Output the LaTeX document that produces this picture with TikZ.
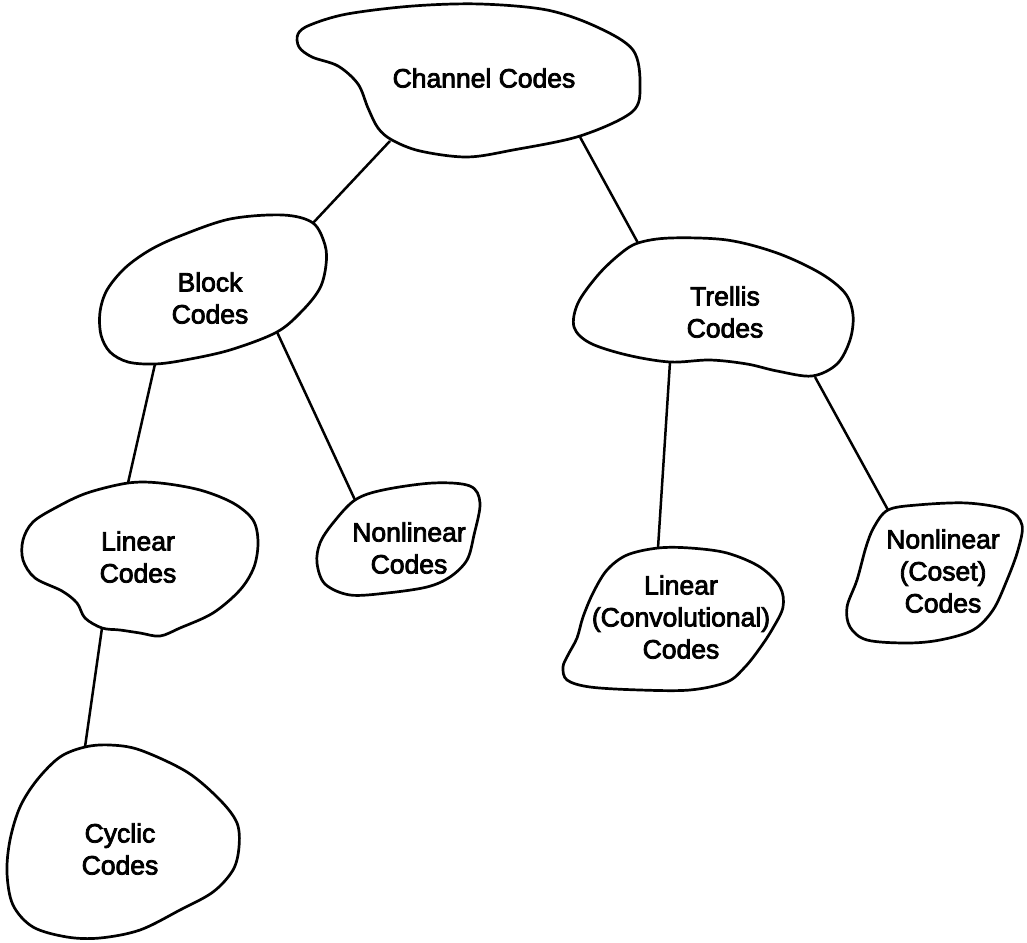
\documentclass[tikz,border=0pt]{standalone}
\usepackage{fontspec}
\setmainfont{Liberation Sans}
\newfontfamily\lblfont{Liberation Sans}[FakeBold=3]
\begin{document}
\begin{tikzpicture}[x=1pt,y=-1pt,
  blob/.style={draw=black,line width=2.7pt,line join=round,smooth cycle,tension=0.55},
  lbl/.style={align=center,inner sep=0pt,font=\lblfont\fontsize{26.5}{32}\selectfont},
  link/.style={draw=black,line width=2.5pt}]
\useasboundingbox (0,0) rectangle (1027,942);
% blobs
\draw[blob] plot coordinates {(310,25) (347,14) (413,6) (480,4) (547,10) (597,27) (633,50) (640,85) (632,112) (580,136) (513,150) (467,157) (420,151) (392,140) (378,128) (368,108) (358,84) (338,66) (312,57) (299,47) (298,34)};
\draw[blob] plot coordinates {(180,236) (230,219) (283,215) (313,223) (325,245) (326,265) (320,288) (303,310) (277,332) (230,350) (185,360) (155,364) (128,362) (110,352) (101,335) (100,312) (107,290) (125,268) (150,250)};
\draw[blob] plot coordinates {(638,243) (670,238) (727,240) (777,253) (820,273) (845,293) (853,315) (850,340) (837,364) (812,376) (777,371) (747,364) (710,360) (670,362) (627,355) (590,343) (574,327) (578,303) (598,275) (620,254)};
\draw[blob] plot coordinates {(128,483) (160,483) (200,490) (233,503) (253,520) (258,542) (254,567) (240,590) (213,613) (180,628) (160,636) (140,633) (120,630) (102,628) (85,618) (77,603) (62,591) (35,578) (23,560) (23,540) (33,522) (57,507) (87,493)};
\draw[blob] plot coordinates {(85,747) (110,745) (140,750) (187,772) (220,800) (237,823) (239,847) (233,870) (213,892) (180,910) (140,930) (100,938) (67,937) (33,927) (13,905) (7,873) (10,840) (20,807) (37,780) (60,757)};
\draw[blob] plot coordinates {(355,500) (383,490) (433,483) (470,486) (480,503) (474,535) (467,560) (450,577) (427,587) (387,593) (350,595) (325,584) (317,563) (320,543) (333,523)};
\draw[blob] plot coordinates {(658,548) (690,548) (727,553) (760,567) (780,587) (783,607) (773,628) (760,648) (745,667) (727,682) (690,690) (640,690) (590,687) (567,680) (563,667) (568,655) (577,638) (583,617) (593,593) (607,570) (627,555)};
\draw[blob] plot coordinates {(888,510) (917,505) (967,503) (1008,510) (1022,525) (1018,550) (1007,580) (993,610) (973,630) (940,640) (907,643) (867,640) (850,627) (847,607) (857,580) (866,547) (874,527)};
% labels
\node[lbl] (channel) at (484,78) {Channel Codes};
\node[lbl] (block) at (210,298) {Block\\Codes};
\node[lbl] (trellis) at (725,312) {Trellis\\Codes};
\node[lbl] (linear) at (138,557) {Linear\\Codes};
\node[lbl] (nonlin) at (409,548) {Nonlinear\\Codes};
\node[lbl] (conv) at (681,617) {Linear\\(Convolutional)\\Codes};
\node[lbl] (coset) at (943,571) {Nonlinear\\(Coset)\\Codes};
\node[lbl] (cyclic) at (120,849) {Cyclic\\Codes};
% attachment points
\coordinate (channelSW) at (390,141);
\coordinate (channelSE) at (580,137);
\coordinate (blockN) at (313,223);
\coordinate (blockS) at (155,364);
\coordinate (blockSE) at (277,332);
\coordinate (trellisN) at (638,243);
\coordinate (trellisS) at (670,362);
\coordinate (trellisSE) at (815,377);
\coordinate (linearN) at (128,483);
\coordinate (linearS) at (102,628);
\coordinate (nonlinN) at (355,500);
\coordinate (convN) at (658,548);
\coordinate (cosetN) at (888,510);
\coordinate (cyclicN) at (85,747);
% connectors
\draw[link] (channelSW) -- (blockN);
\draw[link] (channelSE) -- (trellisN);
\draw[link] (blockS) -- (linearN);
\draw[link] (blockSE) -- (nonlinN);
\draw[link] (trellisS) -- (convN);
\draw[link] (trellisSE) -- (cosetN);
\draw[link] (linearS) -- (cyclicN);
\end{tikzpicture}
\end{document}
